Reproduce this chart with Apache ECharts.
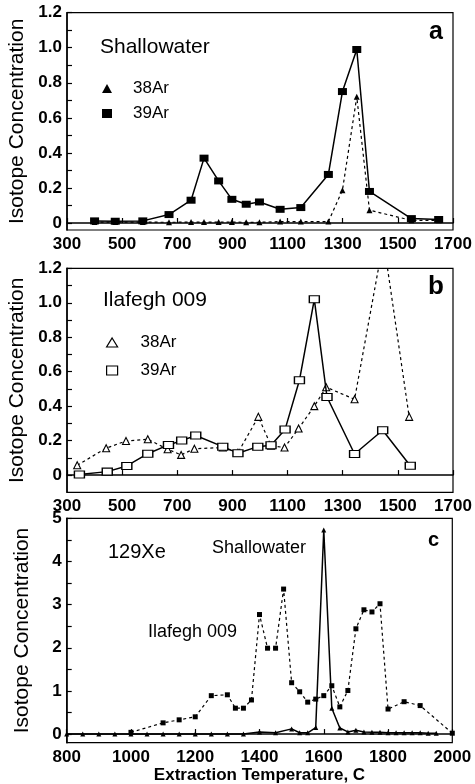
<!DOCTYPE html>
<html><head><meta charset="utf-8">
<script src="https://cdn.jsdelivr.net/npm/echarts@6/dist/echarts.min.js"></script>
<style>html,body{margin:0;padding:0;background:#fff}#c{width:475px;height:784px}</style>
</head><body><div id="c"></div>
<script>
// Panel a: Shallowater
const tempA = [400,475,575,670,750,797,850,898,950,998,1073,1148,1248,1299,1351,1397,1549,1648];
const shallow39Ar = [0.012,0.01,0.012,0.048,0.13,0.37,0.24,0.135,0.107,0.12,0.078,0.088,0.277,0.75,0.99,0.18,0.025,0.02];
const shallow38Ar = [0.005,0.005,0.005,0.004,0.005,0.005,0.005,0.005,0.004,0.004,0.008,0.008,0.008,0.187,0.72,0.073,0.015,0.015];
// Panel b: Ilafegh 009
const tempB39 = [345,446,517,593,668,716,767,865,920,992,1040,1091,1143,1197,1243,1343,1445,1545];
const ilaf39Ar = [0.004,0.02,0.053,0.124,0.175,0.2,0.23,0.165,0.127,0.165,0.173,0.265,0.55,1.02,0.453,0.122,0.26,0.054];
const tempB38 = [337,442,514,593,665,714,762,865,920,994,1040,1089,1140,1197,1240,1343,1448,1541];
const ilaf38Ar = [0.057,0.156,0.198,0.208,0.15,0.117,0.153,0.16,0.13,0.338,0.17,0.16,0.27,0.40,0.51,0.44,1.36,0.338];
// Panel c: 129Xe
const tempCS = [800,850,900,950,1000,1050,1100,1150,1200,1250,1300,1350,1400,1450,1500,1525,1550,1575,1600,1625,1650,1675,1700,1725,1750,1775,1800,1825,1850,1875,1900,1925,1950];
const shallowXe = [0,0,0,0,0,0,0,0,0,0,0,0,0.05,0.03,0.12,0.03,0.03,0.15,4.73,0.6,0.14,0.05,0.09,0.05,0.04,0.04,0.03,0.03,0.03,0.03,0.03,0.02,0.02];
const tempCI = [1000,1100,1150,1200,1250,1300,1325,1350,1375,1400,1425,1450,1475,1500,1525,1550,1575,1600,1625,1650,1675,1700,1725,1750,1775,1800,1850,1900,2000];
const ilafXe = [0.04,0.26,0.33,0.40,0.89,0.91,0.6,0.6,0.79,2.77,1.99,1.99,3.36,1.19,0.98,0.74,0.81,0.89,1.12,0.63,1.01,2.44,2.88,2.83,3.02,0.58,0.75,0.66,0.02];
// Tick labels
const xTicksAB = [300,500,700,900,1100,1300,1500,1700];
const xTicksC = [800,1000,1200,1400,1600,1800,2000];
const yLabelsAB = [0,0.2,0.4,0.6,0.8,1.0,1.2];
const yTicksAB = [0,0.1,0.2,0.3,0.4,0.5,0.6,0.7,0.8,0.9,1.0,1.1,1.2];
const yLabelsC = [0,1,2,3,4,5];
const yTicksC = [0,0.5,1,1.5,2,2.5,3,3.5,4,4.5,5];

const FONT = 'Liberation Sans, Arial, sans-serif';
const pairs = (xs, ys) => xs.map((x, i) => [x, ys[i]]);

function xAxis(g, min, max, ticks, name) {
  return {
    type: 'value', gridIndex: g, min: min, max: max,
    axisLine: {show: true, lineStyle: {color: '#000', width: 1.5}},
    axisTick: {show: true, inside: true, length: 5, customValues: ticks, lineStyle: {color: '#000', width: 1.2}},
    axisLabel: {customValues: ticks, formatter: v => String(Math.round(v)), color: '#000', fontFamily: FONT, fontWeight: 'bold', fontSize: 17, margin: 6},
    splitLine: {show: false},
    name: name || '', nameLocation: 'middle', nameGap: 21,
    nameTextStyle: {color: '#000', fontFamily: FONT, fontSize: 17, fontWeight: 'bold'}
  };
}
function yAxis(g, min, max, labels, ticks, fmt) {
  return {
    type: 'value', gridIndex: g, min: min, max: max,
    axisLine: {show: true, lineStyle: {color: '#000', width: 1.5}},
    axisTick: {show: true, inside: true, length: 5, customValues: ticks, lineStyle: {color: '#000', width: 1.2}},
    axisLabel: {customValues: labels, formatter: fmt, color: '#000', fontFamily: FONT, fontWeight: 'bold', fontSize: 17, margin: 5},
    splitLine: {show: false},
    name: 'Isotope Concentration', nameLocation: 'middle', nameGap: 34,
    nameTextStyle: {color: '#000', fontFamily: FONT, fontSize: 21}
  };
}
const fmtAB = v => v === 0 ? '0' : v.toFixed(1);
const fmtC = v => String(Math.round(v));

const gridBase = {show: true, borderColor: '#000', borderWidth: 1.2, backgroundColor: 'transparent', containLabel: false, outerBoundsMode: 'none'};

const solid = {color: '#000', width: 1.5, type: 'solid'};
const dotted = {color: '#000', width: 1.2, type: [3, 3]};

const option = {
  backgroundColor: '#fff',
  animation: false,
  grid: [
    Object.assign({left: 67, right: 22, top: 12.7, height: 217.3}, gridBase),
    Object.assign({left: 67, right: 22, top: 268.3, height: 224}, gridBase),
    Object.assign({left: 66.7, right: 22.7, top: 518.3, height: 224.4}, gridBase)
  ],
  xAxis: [
    xAxis(0, 300, 1700, xTicksAB),
    xAxis(1, 300, 1700, xTicksAB),
    xAxis(2, 800, 2000, xTicksC, 'Extraction Temperature, C')
  ],
  yAxis: [
    yAxis(0, -0.04, 1.2, yLabelsAB, yTicksAB, fmtAB),
    yAxis(1, -0.1, 1.2, yLabelsAB, yTicksAB, fmtAB),
    yAxis(2, -0.2, 5, yLabelsC, yTicksC, fmtC)
  ],
  legend: [
    {
      orient: 'vertical', left: 97, top: 75, itemWidth: 10, itemHeight: 9, itemGap: 8,
      formatter: n => n.slice(2), selectedMode: false,
      textStyle: {color: '#000', fontFamily: FONT, fontSize: 17, padding: [0, 0, 0, 16]},
      data: [
        {name: 'a-38Ar', icon: 'triangle', itemStyle: {color: '#000'}},
        {name: 'a-39Ar', icon: 'rect', itemStyle: {color: '#000'}}
      ]
    },
    {
      orient: 'vertical', left: 101, top: 329, itemWidth: 11, itemHeight: 9, itemGap: 11,
      formatter: n => n.slice(2), selectedMode: false,
      textStyle: {color: '#000', fontFamily: FONT, fontSize: 17, padding: [0, 0, 0, 18]},
      data: [
        {name: 'b-38Ar', icon: 'triangle', itemStyle: {color: '#fff', borderColor: '#000', borderWidth: 1.2}},
        {name: 'b-39Ar', icon: 'rect', itemStyle: {color: '#fff', borderColor: '#000', borderWidth: 1.2}}
      ]
    }
  ],
  graphic: [
    {type: 'text', left: 100, top: 37, style: {text: 'Shallowater', font: '21px ' + FONT, fill: '#000'}},
    {type: 'text', left: 429, top: 20, style: {text: 'a', font: 'bold 25px ' + FONT, fill: '#000'}},
    {type: 'text', left: 103, top: 290, style: {text: 'Ilafegh 009', font: '21px ' + FONT, fill: '#000'}},
    {type: 'text', left: 428, top: 274, style: {text: 'b', font: 'bold 26px ' + FONT, fill: '#000'}},
    {type: 'text', left: 108, top: 542, style: {text: '129Xe', font: '20px ' + FONT, fill: '#000'}},
    {type: 'text', left: 212, top: 539, style: {text: 'Shallowater', font: '18px ' + FONT, fill: '#000'}},
    {type: 'text', left: 148, top: 623, style: {text: 'Ilafegh 009', font: '18px ' + FONT, fill: '#000'}},
    {type: 'text', left: 428, top: 530, style: {text: 'c', font: 'bold 20px ' + FONT, fill: '#000'}}
  ],
  series: [
    {name: 'a-38Ar', type: 'line', xAxisIndex: 0, yAxisIndex: 0, data: pairs(tempA, shallow38Ar),
     symbol: 'triangle', symbolSize: 6, lineStyle: dotted, itemStyle: {color: '#000'}, z: 3},
    {name: 'a-39Ar', type: 'line', xAxisIndex: 0, yAxisIndex: 0, data: pairs(tempA, shallow39Ar),
     symbol: 'rect', symbolSize: [9, 7], lineStyle: solid, itemStyle: {color: '#000'}, z: 4},
    {name: 'b-38Ar', type: 'line', xAxisIndex: 1, yAxisIndex: 1, data: pairs(tempB38, ilaf38Ar),
     symbol: 'triangle', symbolSize: 7, showAllSymbol: true, lineStyle: dotted, itemStyle: {color: '#fff', borderColor: '#000', borderWidth: 1.1}, z: 3},
    {name: 'b-39Ar', type: 'line', xAxisIndex: 1, yAxisIndex: 1, data: pairs(tempB39, ilaf39Ar),
     symbol: 'rect', symbolSize: [10, 7], lineStyle: solid, itemStyle: {color: '#fff', borderColor: '#000', borderWidth: 1.2}, z: 4},
    {name: 'c-Ilafegh', type: 'line', xAxisIndex: 2, yAxisIndex: 2, data: pairs(tempCI, ilafXe),
     symbol: 'rect', symbolSize: 5, showAllSymbol: true, lineStyle: dotted, itemStyle: {color: '#000'}, z: 3},
    {name: 'c-Shallowater', type: 'line', xAxisIndex: 2, yAxisIndex: 2, data: pairs(tempCS, shallowXe),
     symbol: 'triangle', symbolSize: 5, showAllSymbol: true, lineStyle: solid, itemStyle: {color: '#000'}, z: 4}
  ]
};
const chart = echarts.init(document.getElementById('c'), null, {renderer: 'canvas'});
chart.setOption(option);
</script></body></html>
